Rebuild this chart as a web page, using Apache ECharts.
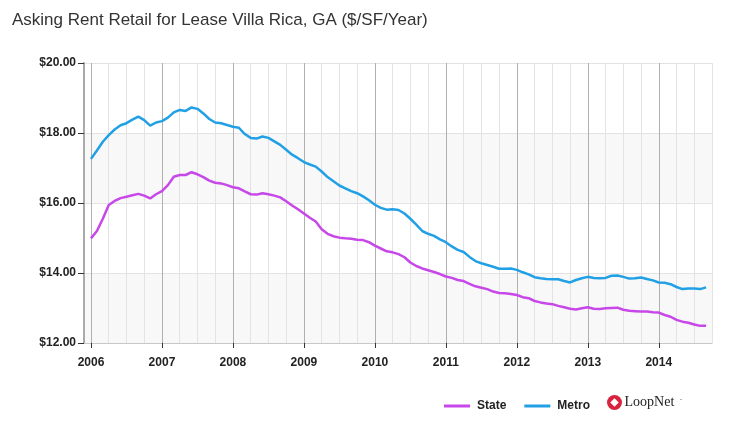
<!DOCTYPE html>
<html>
<head>
<meta charset="utf-8">
<script src="https://cdn.jsdelivr.net/npm/echarts@6/dist/echarts.min.js"></script>
<style>html,body{margin:0;padding:0;background:#fff}#c{width:732px;height:448px}</style>
</head>
<body>
<div id="c"></div>
<script>
// Monthly values, Jan 2006 .. Sep 2014
const startYear = 2006;
const metro = [17.26,17.50,17.75,17.94,18.10,18.22,18.28,18.38,18.47,18.37,18.21,18.30,
  18.34,18.44,18.59,18.66,18.63,18.73,18.69,18.56,18.40,18.30,18.28,18.23,
  18.18,18.15,17.97,17.86,17.84,17.90,17.86,17.76,17.66,17.52,17.38,17.28,
  17.17,17.10,17.04,16.90,16.74,16.62,16.50,16.42,16.34,16.28,16.19,16.08,
  15.95,15.86,15.81,15.82,15.80,15.70,15.55,15.38,15.20,15.12,15.06,14.96,
  14.88,14.76,14.66,14.60,14.46,14.34,14.28,14.23,14.18,14.12,14.12,14.13,
  14.09,14.02,13.96,13.88,13.85,13.83,13.82,13.82,13.77,13.73,13.80,13.85,
  13.89,13.86,13.85,13.86,13.92,13.93,13.89,13.84,13.85,13.87,13.83,13.79,
  13.73,13.72,13.68,13.60,13.54,13.56,13.56,13.54,13.59];
const state = [14.99,15.20,15.55,15.94,16.06,16.14,16.18,16.22,16.26,16.21,16.13,16.25,
  16.34,16.51,16.75,16.80,16.80,16.88,16.82,16.74,16.64,16.58,16.56,16.51,
  16.45,16.42,16.33,16.25,16.24,16.28,16.25,16.21,16.16,16.05,15.93,15.82,
  15.70,15.58,15.47,15.25,15.12,15.05,15.01,14.99,14.98,14.95,14.94,14.88,
  14.78,14.70,14.62,14.59,14.54,14.45,14.30,14.20,14.13,14.08,14.03,13.97,
  13.90,13.86,13.80,13.77,13.69,13.62,13.58,13.54,13.47,13.43,13.42,13.40,
  13.37,13.31,13.28,13.20,13.16,13.13,13.11,13.06,13.02,12.98,12.96,12.99,
  13.02,12.98,12.97,12.99,13.00,13.01,12.95,12.92,12.91,12.90,12.90,12.88,
  12.87,12.80,12.75,12.66,12.61,12.58,12.53,12.49,12.49];
const yearTicks = [2006,2007,2008,2009,2010,2011,2012,2013,2014];
const yTicks = [12,14,16,18,20];
const seriesNames = ['State','Metro'];

const toPts = arr => arr.map((v,i)=>[startYear + i/12, v]);
const FONT = 'Liberation Sans, Arial, sans-serif';

const chart = echarts.init(document.getElementById('c'));
chart.setOption({
  animation: false,
  title: {
    text: 'Asking Rent Retail for Lease Villa Rica, GA ($/SF/Year)',
    left: 7, top: 7,
    textStyle: {fontSize: 17, fontWeight: 'normal', color: '#333', fontFamily: FONT}
  },
  legend: {
    data: seriesNames,
    left: 439, top: 395,
    itemWidth: 26, itemHeight: 3, itemGap: 18,
    icon: 'rect',
    textStyle: {fontSize: 12, fontWeight: 'bold', color: '#222', fontFamily: FONT, padding: [0,0,0,2]}
  },
  grid: [
    {left: 84, right: 20, top: 63, bottom: 105},
    {left: 91, right: 20, top: 63, bottom: 105}
  ],
  xAxis: [
    {gridIndex: 0, type: 'value', min: 0, max: 1,
      axisLine: {show: true, lineStyle: {color: '#c8c8c8', width: 1}},
      axisTick: {show: false}, axisLabel: {show: false}, splitLine: {show: false}},
    {gridIndex: 1, type: 'value', min: 2006, max: 2014.75, interval: 0.25,
      axisLine: {show: false}, axisTick: {show: false}, axisLabel: {show: false},
      splitLine: {show: true, lineStyle: {color: ['#b0b0b0','#e3e3e3','#e3e3e3','#e3e3e3'], width: 1}}},
    {gridIndex: 1, type: 'value', min: 2006, max: 2014.75, interval: 1, position: 'bottom',
      axisLine: {show: false},
      axisTick: {show: true, length: 5, lineStyle: {color: '#333'}, customValues: yearTicks},
      axisLabel: {show: true, margin: 14, fontSize: 12, fontWeight: 'bold', color: '#222', fontFamily: FONT,
        customValues: yearTicks,
        formatter: v => (Math.abs(v - Math.round(v)) < 1e-6 ? String(Math.round(v)) : '')},
      splitLine: {show: false}}
  ],
  yAxis: [
    {gridIndex: 0, type: 'value', min: 12, max: 20, interval: 2,
      axisLine: {show: true, lineStyle: {color: '#aaa', width: 2}},
      axisTick: {show: true, length: 6, lineStyle: {color: '#333'}},
      axisLabel: {margin: 8, fontSize: 12, fontWeight: 'bold', color: '#222', fontFamily: FONT,
        formatter: v => '$' + v.toFixed(2)},
      splitLine: {show: true, lineStyle: {color: '#e3e3e3'}},
      splitArea: {show: true, areaStyle: {color: ['#f8f8f8', '#ffffff']}}},
    {gridIndex: 1, type: 'value', min: 12, max: 20, show: false}
  ],
  series: [
    {name: seriesNames[0], type: 'line', xAxisIndex: 1, yAxisIndex: 1, data: toPts(state),
      showSymbol: false, symbol: 'none', lineStyle: {color: '#c847e8', width: 2.5}, itemStyle: {color: '#c847e8'}},
    {name: seriesNames[1], type: 'line', xAxisIndex: 1, yAxisIndex: 1, data: toPts(metro),
      showSymbol: false, symbol: 'none', lineStyle: {color: '#22a0e6', width: 2.5}, itemStyle: {color: '#22a0e6'}}
  ],
  graphic: [
    {type: 'group', left: 607, top: 395, children: [
      {type: 'circle', shape: {cx: 8, cy: 8, r: 7.5}, style: {fill: '#d8233f'}},
      {type: 'rect', shape: {x: 5, y: 5, width: 6, height: 6}, rotation: Math.PI/4, originX: 8, originY: 8, style: {fill: '#fff'}},
      {type: 'text', x: 18, y: 8, style: {text: 'LoopNet', fontSize: 14, fontFamily: 'Liberation Serif, Times New Roman, serif', fill: '#222', verticalAlign: 'middle'}},
      {type: 'text', x: 73, y: 5, style: {text: '·', fontSize: 9, fill: '#555', verticalAlign: 'middle'}}
    ]}
  ]
});
</script>
</body>
</html>
